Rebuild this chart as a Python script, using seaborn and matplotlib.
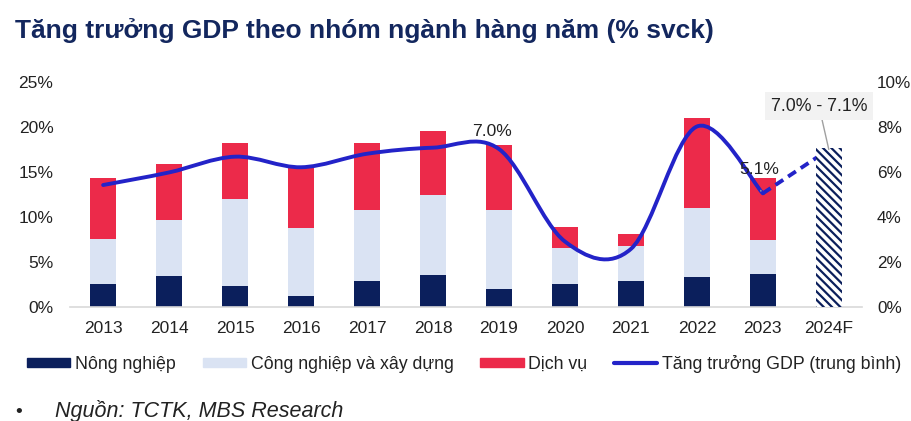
import matplotlib
matplotlib.use("Agg")
import matplotlib.pyplot as plt
import pandas as pd
import seaborn as sns
from matplotlib.path import Path
from matplotlib.patches import PathPatch, Patch
from matplotlib.lines import Line2D

# Dữ liệu (% svck)
years = ['2013', '2014', '2015', '2016', '2017', '2018', '2019', '2020', '2021', '2022', '2023']
categories = years + ['2024F']
nong_nghiep = [2.5, 3.4, 2.3, 1.2, 2.9, 3.6, 2.0, 2.6, 2.9, 3.3, 3.7]
cong_nghiep = [5.1, 6.3, 9.7, 7.6, 7.9, 8.8, 8.8, 3.9, 3.9, 7.7, 3.7]
dich_vu = [6.7, 6.2, 6.2, 6.9, 7.4, 7.1, 7.2, 2.4, 1.3, 10.0, 6.9]
gdp = [5.42, 5.98, 6.68, 6.21, 6.81, 7.08, 7.02, 2.91, 2.58, 8.02, 5.05]
gdp_2024f = 7.05
gdp_2024f_line = 7.0

NAVY = '#0b1f5c'
LIGHT = '#dae3f3'
RED = '#ec2a4a'
BLUE = '#2323c8'
TEXT = '#222222'

sns.set_style('white')
plt.rcParams['font.family'] = ['Liberation Sans', 'DejaVu Sans']
plt.rcParams['hatch.linewidth'] = 1.6

df = pd.DataFrame({'year': years, 'nn': nong_nghiep, 'cn': cong_nghiep, 'dv': dich_vu})
df['cum2'] = df['nn'] + df['cn']
df['cum3'] = df['cum2'] + df['dv']

fig = plt.figure(figsize=(9.11, 4.21), dpi=100)
ax = fig.add_axes([0.077, 0.2708, 0.869, 0.5345])

# cột chồng: vẽ tổng trước rồi phủ dần
for col, color in [('cum3', RED), ('cum2', LIGHT), ('nn', NAVY)]:
    sns.barplot(data=df, x='year', y=col, order=categories, color=color,
                width=0.4, ax=ax, linewidth=0, saturation=1, zorder=2)

ax.set_ylim(0, 25)
ax.set_xlim(-0.5, 11.5)
ax.set_yticks(range(0, 26, 5))
ax.set_yticklabels([f'{v}%' for v in range(0, 26, 5)])
ax.set_xlabel('')
ax.set_ylabel('')
for s in ['top', 'left', 'right']:
    ax.spines[s].set_visible(False)
ax.spines['bottom'].set_color('#d9d9d9')
ax.spines['bottom'].set_linewidth(1.2)
ax.tick_params(axis='both', length=0, labelsize=12.5, colors=TEXT)
ax.tick_params(axis='y', pad=12)
ax.tick_params(axis='x', pad=10)

ax2 = ax.twinx()
ax2.set_ylim(0, 10)
ax2.set_yticks(range(0, 11, 2))
ax2.set_yticklabels([f'{v}%' for v in range(0, 11, 2)])
for s in ['top', 'left', 'right', 'bottom']:
    ax2.spines[s].set_visible(False)
ax2.tick_params(axis='y', length=0, labelsize=12.3, colors=TEXT, pad=11)

# đường tăng trưởng làm mượt (Catmull-Rom -> Bezier)
xs = list(range(len(gdp)))
pts = list(zip(xs, gdp))
verts = [pts[0]]
codes = [Path.MOVETO]
for i in range(len(pts) - 1):
    p0 = pts[i - 1] if i > 0 else pts[i]
    p1 = pts[i]
    p2 = pts[i + 1]
    p3 = pts[i + 2] if i + 2 < len(pts) else pts[i + 1]
    c1 = (p1[0] + (p2[0] - p0[0]) / 6, p1[1] + (p2[1] - p0[1]) / 6)
    c2 = (p2[0] - (p3[0] - p1[0]) / 6, p2[1] - (p3[1] - p1[1]) / 6)
    verts += [c1, c2, p2]
    codes += [Path.CURVE4] * 3
ax2.add_patch(PathPatch(Path(verts, codes), fill=False, edgecolor=BLUE,
                        linewidth=2.8, capstyle='round', zorder=2))

ax2.plot([10, 11], [gdp[-1], gdp_2024f_line], color=BLUE, linewidth=2.8,
         linestyle=(0, (2.4, 1.5)), zorder=2)

# cột dự báo 2024F
sns.barplot(x=['2024F'], y=[gdp_2024f], order=categories, ax=ax2, width=0.4,
            color='white', edgecolor=NAVY, hatch='\\\\\\\\', linewidth=0,
            saturation=1, zorder=3)
ax2.set_xlim(-0.5, 11.5)
ax2.set_ylim(0, 10)

# nhãn
ax2.text(5.9, 7.82, '7.0%', ha='center', va='center', fontsize=12.6, color=TEXT)
ax2.annotate('5.1%', xy=(9.97, gdp[-1] + 0.1), xytext=(9.95, 6.09), ha='center', va='center',
             fontsize=12.6, color=TEXT,
             arrowprops=dict(arrowstyle='-', color='#a0a0a0', lw=1, shrinkA=7, shrinkB=0))
ax2.annotate('7.0% - 7.1%', xy=(11, gdp_2024f - 0.05), xytext=(10.85, 8.93), ha='center', va='center',
             fontsize=12.8, color=TEXT,
             bbox=dict(boxstyle='square,pad=0.3', fc='#f2f2f2', ec='none'),
             arrowprops=dict(arrowstyle='-', color='#a0a0a0', lw=1, shrinkA=0, shrinkB=0),
             zorder=5)

fig.text(0.0165, 1 - 38 / 421, 'Tăng trưởng GDP theo nhóm ngành hàng năm (% svck)', fontsize=19,
         fontweight='bold', color='#13275e', va='baseline', ha='left')

handles = [Patch(color=NAVY), Patch(color=LIGHT), Patch(color=RED),
           Line2D([], [], color=BLUE, linewidth=3)]
labels = ['Nông nghiệp', 'Công nghiệp và xây dựng', 'Dịch vụ', 'Tăng trưởng GDP (trung bình)']
fig.legend(handles, labels, loc='center left', bbox_to_anchor=(27 / 911, 1 - 364 / 421), ncol=4,
           frameon=False, fontsize=12.8, handlelength=2.43, handleheight=0.45,
           handletextpad=0.28, columnspacing=1.5, labelcolor=TEXT,
           borderpad=0, borderaxespad=0)

fig.text(0.017, 1 - 417 / 421, '•', fontsize=14, color=TEXT, va='baseline')
fig.text(0.0605, 1 - 417 / 421, 'Nguồn: TCTK, MBS Research', fontsize=15.5, style='italic',
         color=TEXT, va='baseline')

fig.savefig('out.png', dpi=100)
